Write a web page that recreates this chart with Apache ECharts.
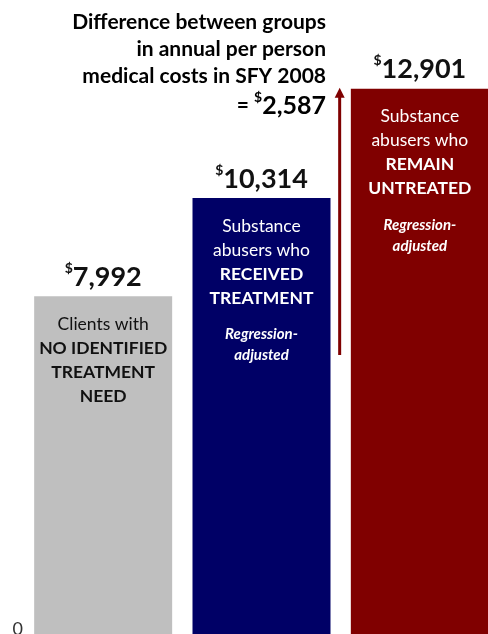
<!DOCTYPE html>
<html>
<head>
<meta charset="utf-8">
<script src="https://cdn.jsdelivr.net/npm/echarts@6/dist/echarts.min.js"></script>
<style>
  html, body { margin: 0; padding: 0; background: #ffffff; }
  #chart { width: 488px; height: 634px; }
</style>
</head>
<body>
<div id="chart"></div>
<script>
// Annual per person medical costs, SFY 2008
const categories = ['No identified treatment need', 'Received treatment', 'Remain untreated'];
const costs = [7992, 10314, 12901];
const yTicks = [0];

// Text written inside each bar
const descriptions = [
  '{n|Clients with}\n{b|NO IDENTIFIED}\n{b|TREATMENT}\n{b|NEED}',
  '{n|Substance}\n{n|abusers who}\n{b|RECEIVED}\n{b|TREATMENT}\n{sp| }\n{i|Regression-}\n{i|adjusted}',
  '{n|Substance}\n{n|abusers who}\n{b|REMAIN}\n{b|UNTREATED}\n{sp| }\n{i|Regression-}\n{i|adjusted}'
];

const barColors = ['#bfbfbf', '#000066', '#800000'];
const textColors = ['#111111', '#ffffff', '#ffffff'];
const accent = '#7f0000';
const FONT = 'Lato, "Open Sans", sans-serif';

const difference = costs[2] - costs[1];
// where the difference arrow starts, in cost units
const arrowBaseValue = 6600;

const fmt = v => v.toLocaleString('en-US');

function descRich(color) {
  return {
    n: { fontFamily: FONT, fontSize: 17.5, lineHeight: 24, color: color },
    b: { fontFamily: FONT, fontSize: 17.5, lineHeight: 24, fontWeight: 'bold', color: color },
    i: { fontFamily: FONT, fontSize: 15, lineHeight: 21, fontWeight: 'bold', fontStyle: 'italic', color: color },
    sp: { fontSize: 10, lineHeight: 14 }
  };
}

const noteLines = ['Difference between groups', 'in annual per person', 'medical costs in SFY 2008'];
const noteText = noteLines.map(s => '{t|' + s + '}').join('\n') +
  '\n{eq|= }{d|$}{v|' + fmt(difference) + '}';
const noteRich = {
  t: { fontFamily: FONT, fontSize: 21, fontWeight: 'bold', lineHeight: 27, color: '#111111', align: 'right' },
  eq: { fontFamily: FONT, fontSize: 21, fontWeight: 'bold', lineHeight: 31, color: '#111111', align: 'right' },
  d: { fontFamily: FONT, fontSize: 14, fontWeight: 'bold', lineHeight: 14, color: accent, verticalAlign: 'top', align: 'right' },
  v: { fontFamily: FONT, fontSize: 25, fontWeight: 'bold', lineHeight: 31, color: accent, align: 'right' }
};

const chart = echarts.init(document.getElementById('chart'), null, { renderer: 'canvas' });

chart.setOption({
  animation: false,
  backgroundColor: '#ffffff',
  grid: { left: 24, width: 475, top: 0, bottom: 0, containLabel: false, outerBoundsMode: 'none' },
  xAxis: {
    type: 'category',
    data: categories,
    axisLine: { show: false },
    axisTick: { show: false },
    axisLabel: { show: false }
  },
  yAxis: {
    type: 'value',
    min: 0,
    max: 15000,
    interval: 15000,
    splitLine: { show: false },
    axisLine: { show: false },
    axisTick: { show: false },
    axisLabel: {
      margin: 1,
      verticalAlign: 'bottom',
      lineHeight: 10,
      fontFamily: FONT,
      fontSize: 18,
      color: '#333333',
      formatter: v => (yTicks.indexOf(v) >= 0 ? String(v) : '')
    }
  },
  series: [
    {
      name: 'cost',
      type: 'bar',
      barWidth: 138,
      data: costs.map((v, i) => ({ value: v, itemStyle: { color: barColors[i] } })),
      label: {
        show: true,
        position: 'top',
        distance: 3,
        formatter: p => '{d|$}{v|' + fmt(p.value) + '}',
        rich: {
          d: { fontFamily: FONT, fontSize: 14, lineHeight: 14, fontWeight: 'bold', color: '#111111', verticalAlign: 'top' },
          v: { fontFamily: FONT, fontSize: 27, lineHeight: 32, fontWeight: 'bold', color: '#111111' }
        }
      }
    },
    {
      name: 'description',
      type: 'bar',
      barWidth: 138,
      barGap: '-100%',
      silent: true,
      data: costs.map((v, i) => ({
        value: v,
        itemStyle: { color: 'rgba(0,0,0,0)' },
        label: {
          show: true,
          position: 'insideTop',
          distance: 16,
          align: 'center',
          formatter: descriptions[i],
          rich: descRich(textColors[i])
        }
      }))
    }
  ]
});

// Vertical arrow showing the gap between treated and untreated groups
const xMid = (chart.convertToPixel({ xAxisIndex: 0 }, categories[1]) +
              chart.convertToPixel({ xAxisIndex: 0 }, categories[2])) / 2;
const yTop = chart.convertToPixel({ yAxisIndex: 0 }, costs[2]);
const yBase = chart.convertToPixel({ yAxisIndex: 0 }, arrowBaseValue);
const head = 9;

chart.setOption({
  graphic: [
    {
      type: 'text',
      right: 162,
      top: 12,
      style: {
        text: noteText,
        align: 'right',
        rich: noteRich
      }
    },
    {
      type: 'line',
      shape: { x1: xMid - 1, y1: yBase, x2: xMid - 1, y2: yTop + head - 1 },
      style: { stroke: accent, lineWidth: 3 }
    },
    {
      type: 'polygon',
      shape: { points: [[xMid - 1, yTop - 1], [xMid - 6, yTop + head], [xMid + 4, yTop + head]] },
      style: { fill: accent }
    }
  ]
});
</script>
</body>
</html>
